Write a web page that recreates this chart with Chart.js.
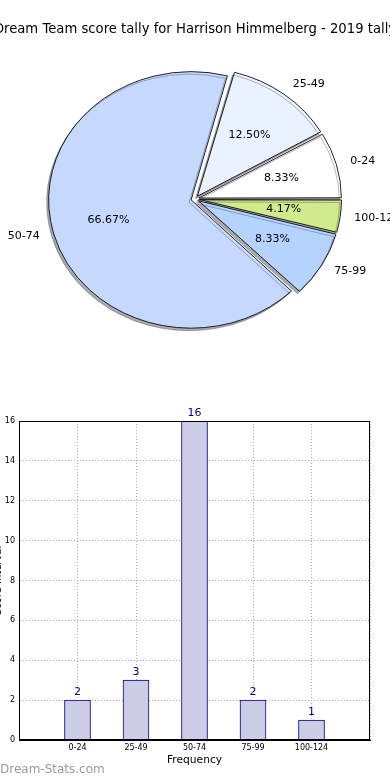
<!DOCTYPE html>
<html>
<head>
<meta charset="utf-8">
<script src="https://cdn.jsdelivr.net/npm/chart.js@4.4.0/dist/chart.umd.min.js"></script>
<style>
  body { margin: 0; width: 390px; height: 780px; overflow: hidden; background: #fff; position: relative; font-family: "DejaVu Sans", sans-serif; }
  #pie { position: absolute; left: 0; top: 0; }
  #bars { position: absolute; left: -12px; top: 395px; }
  #mark { position: absolute; left: 0; top: 762px; font-size: 12px; color: #999; white-space: nowrap; }
</style>
</head>
<body>
<canvas id="pie" width="390" height="400"></canvas>
<canvas id="bars" width="402" height="385"></canvas>
<div id="mark">Dream-Stats.com</div>
<script>
// data
const chartTitle = 'Dream Team score tally for Harrison Himmelberg - 2019 tally';
const categories = ['0-24', '25-49', '50-74', '75-99', '100-124'];
const counts = [2, 3, 16, 2, 1];
const xTitle = 'Frequency';
const yTitle = 'Score Interval';

const total = counts.reduce((a, b) => a + b, 0);
const pieColors = ['#ffffff', '#eaf1ff', '#c5d9ff', '#b4d4ff', '#cfeb8b'];

// matplotlib goes counter-clockwise from 3 o'clock, chart.js clockwise -> reverse
const order = categories.map((c, i) => i).reverse();

const R = 142.5;      // wanted radius
const SQUASH = 0.9;   // pie is an ellipse in the original
const OFFSET = 16;    // chart.js moves a slice by offset/4

const pieLook = {
  id: 'pieLook',
  beforeDatasetsDraw(chart) {
    const ctx = chart.ctx;
    const arcs = chart.getDatasetMeta(0).data;
    // chart.js grows exploded slices a bit, keep them all the same size
    arcs.forEach(a => {
      const fix = 1 - Math.sin(Math.min(Math.PI, a.circumference));
      a.outerRadius = R - fix * OFFSET / 4;
    });
    const cy = arcs[0].y;
    ctx.save();
    ctx.translate(0, cy);
    ctx.scale(1, SQUASH);
    ctx.translate(0, -cy);
    ctx.shadowColor = 'rgba(40,45,55,0.4)';
    ctx.shadowOffsetX = -2;
    ctx.shadowOffsetY = 2.5;
  },
  afterDatasetsDraw(chart) {
    const ctx = chart.ctx;
    ctx.restore();
    const arcs = chart.getDatasetMeta(0).data;
    const d = OFFSET / 4;
    ctx.save();
    ctx.fillStyle = '#000';
    ctx.font = '11px "DejaVu Sans"';
    ctx.textBaseline = 'middle';
    arcs.forEach((a, j) => {
      const i = order[j];
      const mid = (a.startAngle + a.endAngle) / 2;
      const dx = Math.cos(mid), dy = Math.sin(mid) * SQUASH;
      ctx.textAlign = dx > 0 ? 'left' : 'right';
      ctx.fillText(categories[i], a.x + dx * (d + 1.1 * R), a.y + dy * (d + 1.1 * R));
      ctx.textAlign = 'center';
      ctx.fillText((counts[i] / total * 100).toFixed(2) + '%', a.x + dx * (d + 0.6 * R), a.y + dy * (d + 0.6 * R));
    });
    ctx.font = '13.2px "DejaVu Sans"';
    ctx.textAlign = 'center';
    ctx.fillText(chartTitle, 195, 30);
    ctx.restore();
  }
};

new Chart(document.getElementById('pie'), {
  type: 'pie',
  data: {
    labels: order.map(i => categories[i]),
    datasets: [{
      data: order.map(i => counts[i]),
      backgroundColor: order.map(i => pieColors[i]),
      borderColor: '#000',
      borderWidth: 0.9,
      borderJoinStyle: 'miter',
      offset: OFFSET
    }]
  },
  options: {
    responsive: false,
    animation: false,
    events: [],
    rotation: 90,
    layout: { padding: { left: 46, right: 46, top: 50, bottom: 52 } },
    plugins: { legend: { display: false }, tooltip: { enabled: false } }
  },
  plugins: [pieLook]
});

// bar chart
const barLook = {
  id: 'barLook',
  afterDraw(chart) {
    const ctx = chart.ctx;
    const a = chart.chartArea;
    ctx.save();
    ctx.strokeStyle = '#000';
    ctx.lineWidth = 1;
    ctx.strokeRect(Math.round(a.left) + 0.5, Math.round(a.top) + 0.5, Math.round(a.right - a.left) - 1, Math.round(a.bottom - a.top) - 1);
    ctx.fillStyle = '#000080';
    ctx.font = '11px "DejaVu Sans"';
    ctx.textAlign = 'center';
    ctx.textBaseline = 'alphabetic';
    chart.getDatasetMeta(0).data.forEach((bar, i) => {
      ctx.fillText(String(counts[i]), bar.x, bar.y - 5);
    });
    ctx.restore();
  }
};

new Chart(document.getElementById('bars'), {
  type: 'bar',
  data: {
    datasets: [{
      data: counts.map((v, i) => ({ x: i, y: v })),
      backgroundColor: '#ccccE6',
      borderColor: '#000080',
      borderWidth: 1,
      barThickness: 26
    }]
  },
  options: {
    responsive: false,
    animation: false,
    events: [],
    layout: { padding: { top: 26, right: 20, bottom: 0, left: 0 } },
    plugins: { legend: { display: false }, tooltip: { enabled: false } },
    scales: {
      x: {
        type: 'linear',
        min: -1,
        max: 5,
        offset: false,
        z: 1,
        afterFit: s => { s.height = 40; },
        ticks: {
          stepSize: 1,
          autoSkip: false,
          maxRotation: 0,
          padding: 3,
          color: '#000',
          font: { family: 'DejaVu Sans', size: 8 },
          callback: v => categories[v] || ''
        },
        grid: { color: '#aaa', drawTicks: false, offset: false },
        border: { display: true, color: '#000', dash: [1, 2] },
        title: { display: true, text: xTitle, color: '#000', font: { family: 'DejaVu Sans', size: 10.7 }, padding: { top: 4, bottom: 13 } }
      },
      y: {
        min: 0,
        max: 16,
        z: 1,
        afterFit: s => { s.width = 31; },
        ticks: {
          stepSize: 2,
          padding: 4,
          color: '#000',
          font: { family: 'DejaVu Sans', size: 8 }
        },
        grid: { color: '#aaa', drawTicks: false },
        border: { display: true, color: '#000', dash: [1, 2] },
        title: { display: true, text: yTitle, color: '#000', font: { family: 'DejaVu Sans', size: 10 }, padding: { top: 4, bottom: 4 } }
      }
    }
  },
  plugins: [barLook]
});
</script>
</body>
</html>
